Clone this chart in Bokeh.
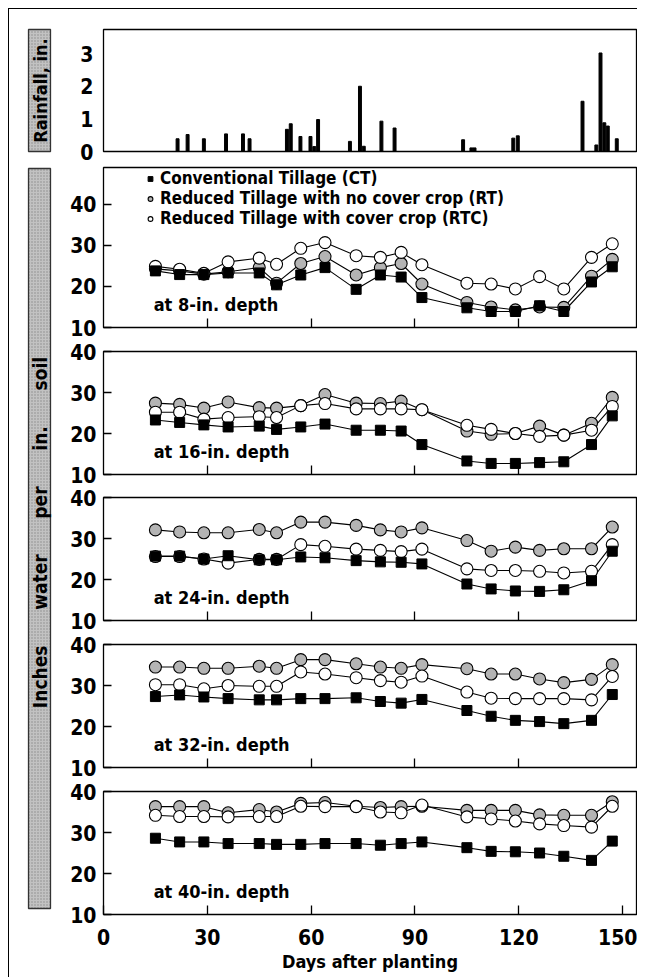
import numpy as np
from bokeh.plotting import figure
from bokeh.layouts import column, row
from bokeh.models import Range1d, FixedTicker, Legend, LegendItem, Label, Spacer
from bokeh.core.properties import value
from bokeh.embed import file_html
from bokeh.resources import INLINE

FONT = "DejaVu Sans Condensed"

# ---------------- data ----------------
rain_day = [21.4, 24.3, 29.0, 35.4, 40.3, 42.2, 53.0, 54.1, 56.9, 59.8, 60.9, 62.0,
            71.2, 74.1, 75.2, 80.3, 84.1, 103.9, 106.3, 107.2, 118.4, 119.7,
            138.4, 142.4, 143.6, 144.7, 145.7, 148.3]
rain_in = [0.39, 0.52, 0.39, 0.54, 0.54, 0.39, 0.68, 0.85, 0.46, 0.46, 0.15, 0.98,
           0.31, 2.0, 0.16, 0.93, 0.72, 0.36, 0.11, 0.11, 0.41, 0.48,
           1.54, 0.2, 3.02, 0.88, 0.78, 0.39]

days = [15, 22, 29, 36, 45, 50, 57, 64, 73, 80, 86, 92, 105, 112, 119, 126, 133, 141, 147]

ct_8 = [23.8, 22.9, 22.9, 23.3, 23.3, 20.4, 22.8, 24.6, 19.3, 22.8, 22.3, 17.3, 14.8, 13.9, 13.9, 15.3, 13.9, 21.1, 24.8]
rt_8 = [24.3, 23.8, 23.0, 23.6, 24.6, 20.8, 25.6, 27.3, 22.8, 24.6, 25.6, 20.6, 16.1, 15.0, 14.3, 15.0, 14.9, 22.5, 26.6]
rtc_8 = [24.9, 24.2, 23.2, 26.0, 26.9, 25.4, 29.3, 30.7, 27.5, 27.1, 28.3, 25.3, 20.8, 20.6, 19.4, 22.4, 19.4, 27.1, 30.4]

ct_16 = [23.3, 22.7, 22.1, 21.6, 21.8, 21.0, 21.6, 22.3, 20.8, 20.8, 20.6, 17.3, 13.3, 12.7, 12.7, 12.9, 13.1, 17.3, 24.3]
rt_16 = [27.4, 27.1, 26.2, 27.7, 26.3, 26.2, 26.8, 29.5, 27.4, 27.3, 27.9, 25.8, 20.6, 19.8, 20.0, 21.8, 19.6, 22.5, 28.8]
rtc_16 = [25.2, 25.2, 23.5, 23.9, 24.1, 23.9, 26.8, 27.3, 26.0, 26.0, 26.0, 25.8, 22.0, 21.0, 20.0, 19.3, 19.6, 20.8, 26.6]

ct_24 = [25.7, 25.7, 25.0, 25.8, 24.8, 24.8, 25.5, 25.3, 24.6, 24.3, 24.2, 23.8, 18.9, 17.7, 17.2, 17.1, 17.5, 19.7, 26.9]
rt_24 = [32.1, 31.6, 31.4, 31.4, 32.2, 31.4, 34.0, 34.0, 33.2, 32.1, 31.6, 32.6, 29.5, 26.9, 27.9, 27.1, 27.5, 27.5, 32.8]
rtc_24 = [25.6, 25.6, 25.0, 24.0, 24.9, 24.9, 28.5, 28.1, 27.4, 27.1, 26.8, 27.4, 22.6, 22.2, 22.2, 22.0, 21.6, 22.0, 28.5]

ct_32 = [27.3, 27.7, 27.2, 26.8, 26.5, 26.5, 26.8, 26.8, 27.0, 26.1, 25.7, 26.6, 23.9, 22.5, 21.5, 21.2, 20.7, 21.5, 27.8]
rt_32 = [34.5, 34.5, 34.2, 34.2, 34.7, 34.2, 36.3, 36.3, 35.3, 34.5, 34.2, 35.1, 34.1, 32.8, 32.8, 31.6, 30.7, 31.5, 35.1]
rtc_32 = [30.2, 30.2, 29.2, 30.0, 29.8, 29.8, 33.3, 32.8, 31.9, 31.2, 30.8, 32.3, 28.4, 26.9, 26.8, 26.8, 26.8, 26.5, 32.2]

ct_40 = [28.6, 27.7, 27.7, 27.3, 27.3, 27.1, 27.1, 27.3, 27.3, 26.9, 27.3, 27.7, 26.3, 25.4, 25.3, 25.0, 24.2, 23.2, 27.9]
rt_40 = [36.3, 36.3, 36.3, 34.8, 35.6, 35.0, 37.1, 37.3, 36.4, 36.1, 36.3, 36.4, 35.4, 35.4, 35.4, 34.3, 34.2, 34.2, 37.5]
rtc_40 = [34.2, 33.9, 33.9, 33.8, 33.9, 33.9, 36.4, 36.3, 36.3, 35.0, 34.8, 36.7, 33.8, 33.3, 32.8, 32.1, 31.7, 31.3, 36.4]

depth_labels = ["at 8-in. depth", "at 16-in. depth", "at 24-in. depth", "at 32-in. depth", "at 40-in. depth"]
series_names = ["Conventional Tillage (CT)", "Reduced Tillage with no cover crop (RT)",
                "Reduced Tillage with cover crop (RTC)"]
x_ticks = [0, 30, 60, 90, 120, 150]
y_ticks = [10, 20, 30, 40]
rain_ticks = [0, 1, 2, 3]
rain_label = "Rainfall, in."
GAP = "\u00a0" * 6
soil_label = GAP.join(["Inches", "water", "per", "in.", "soil"])
x_label = "Days after planting"

# ---------------- layout ----------------
X_END = 154.0
LEFT_W = 46
PANEL_W = 582
BL, BR = 48, 1
TOP0 = 9  # page y of the top of the drawing area (inside the border)

def style_axes(p):
    p.xgrid.visible = False
    p.ygrid.visible = False
    p.outline_line_color = "black"
    p.outline_line_width = 1.3
    p.background_fill_color = "white"
    p.border_fill_color = "white"
    for ax in p.axis:
        ax.axis_line_color = None
        ax.minor_tick_line_color = None
        ax.major_tick_line_color = "black"
        ax.major_tick_line_width = 1.3
        ax.major_label_text_font = FONT
        ax.major_label_text_font_style = "bold"
        ax.major_label_text_font_size = "21px"
        ax.major_label_text_color = "black"

def make_fig(height, top, bottom, yr):
    p = figure(width=PANEL_W, height=height, x_range=Range1d(0, X_END), y_range=Range1d(*yr),
               output_backend="svg", toolbar_location=None,
               min_border_left=BL, min_border_right=BR, min_border_top=top, min_border_bottom=bottom)
    style_axes(p)
    return p

# rain panel
RAIN_H = 154
rain = make_fig(RAIN_H, 20, 12, (0, 3.74))
rain.vbar(x=rain_day, top=rain_in, bottom=0, width=0.85, color="black")
rain.xaxis.visible = False
rain.yaxis.ticker = FixedTicker(ticks=rain_ticks)
rain.yaxis.major_tick_in = 0
rain.yaxis.major_tick_out = 0
rain.yaxis.major_label_standoff = 10

specs = [
    (178, 4, 14, (10, 49), ct_8, rt_8, rtc_8),
    (145, 10, 12, (10, 40), ct_16, rt_16, rtc_16),
    (146, 11, 12, (10, 40), ct_24, rt_24, rtc_24),
    (147, 12, 12, (10, 40), ct_32, rt_32, rtc_32),
    (198, 12, 63, (10, 40), ct_40, rt_40, rtc_40),
]

panels = []
for i, (h, t, b, yr, ct, rt, rtc) in enumerate(specs):
    p = make_fig(h, t, b, yr)
    for ys in (rt, rtc, ct):
        p.line(days, ys, line_color="black", line_width=1.1)
    r_rt = p.scatter(days, rt, marker="circle", size=12, fill_color="#b4b4b4",
                     line_color="black", line_width=1.1)
    r_rtc = p.scatter(days, rtc, marker="circle", size=12, fill_color="white",
                      line_color="black", line_width=1.1)
    r_ct = p.scatter(days, ct, marker="square", size=10, fill_color="black",
                     line_color="black")
    p.yaxis.ticker = FixedTicker(ticks=y_ticks)
    p.yaxis.major_tick_in = 8
    p.yaxis.major_tick_out = 0
    p.yaxis.major_label_standoff = 7
    last = (i == len(specs) - 1)
    if last:
        p.xaxis.ticker = FixedTicker(ticks=x_ticks)
        p.xaxis.major_label_standoff = 14
        p.xaxis.axis_label = x_label
        p.xaxis.axis_label_text_font = FONT
        p.xaxis.axis_label_text_font_style = "bold"
        p.xaxis.axis_label_text_font_size = "18px"
        p.xaxis.axis_label_text_color = "black"
        p.xaxis.axis_label_standoff = 3
    else:
        inner = x_ticks[1:5]
        p.xaxis.ticker = FixedTicker(ticks=inner)
        p.xaxis.major_label_overrides = {t_: "" for t_ in inner}
        p.xaxis.major_label_standoff = 0
    p.xaxis.major_tick_in = 9
    p.xaxis.major_tick_out = 0
    p.add_layout(Label(x=14.5, y=15.5, text=depth_labels[i], text_font=FONT,
                       text_font_style="bold", text_font_size="18px",
                       text_baseline="alphabetic", text_color="black"))
    if i == 0:
        leg = Legend(items=[LegendItem(label=series_names[0], renderers=[r_ct]),
                            LegendItem(label=series_names[1], renderers=[r_rt]),
                            LegendItem(label=series_names[2], renderers=[r_rtc])],
                     location=(41, 99), padding=0, margin=0, spacing=0,
                     label_height=17, glyph_height=17, glyph_width=12, label_standoff=4,
                     border_line_color=None, background_fill_alpha=0,
                     label_text_font=FONT, label_text_font_style="bold",
                     label_text_font_size="17px", label_text_color="black")
        p.add_layout(leg)
    panels.append(p)

H_TOTAL = RAIN_H + sum(s[0] for s in specs)

left = figure(width=LEFT_W, height=H_TOTAL, x_range=Range1d(TOP0, TOP0 + LEFT_W),
              y_range=Range1d(TOP0 + H_TOTAL, TOP0), output_backend="svg", toolbar_location=None,
              min_border=0, x_axis_location=None, y_axis_location=None)
left.xgrid.visible = False
left.ygrid.visible = False
left.outline_line_color = None
left.background_fill_color = "white"
left.border_fill_color = "white"
box_top = [29, 168]
box_bot = [151, 908]
left.quad(left=[28, 28], right=[50, 50], top=box_top, bottom=box_bot,
          fill_color="#c2c2c2", line_color="#333333", line_width=1.3,
          hatch_pattern="dot", hatch_color="#8c8c8c", hatch_scale=3, hatch_weight=1)
left.text(x=[39.5, 39.5], y=[(box_top[0] + box_bot[0]) / 2, (box_top[1] + box_bot[1]) / 2 - 6],
          text=[rain_label, soil_label],
          angle=np.pi / 2, text_align="center", text_baseline="middle",
          text_font=value(FONT), text_font_style="bold", text_font_size=["18px", "19px"],
          text_color="black")

body = row(left, column(rain, *panels, spacing=0), spacing=0,
           styles={"border-left": "1px solid black", "border-top": "1px solid black"})
page = column(Spacer(height=8), row(Spacer(width=8), body, spacing=0), spacing=0)

open("out.html", "w").write(file_html(page, INLINE))
